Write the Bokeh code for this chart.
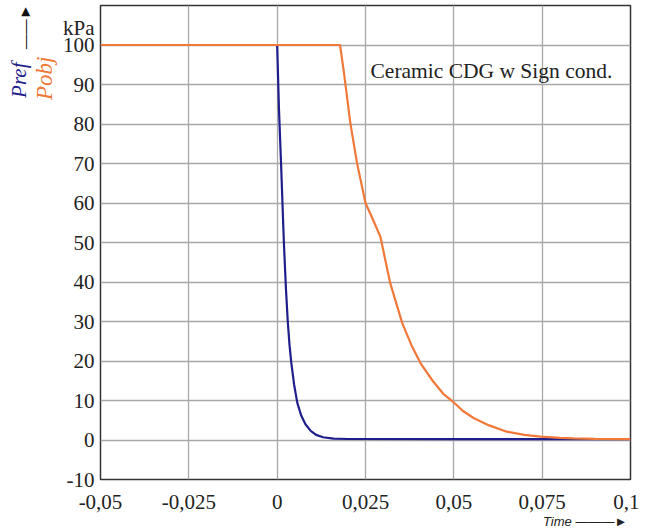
from bokeh.plotting import figure
from bokeh.models import Range1d, FixedTicker, CustomJSTickFormatter, Label, Title
from bokeh.embed import file_html
from bokeh.resources import INLINE

# ---- data ----
blue_t = [-0.05, 0.0, 0.0005, 0.0011, 0.0015, 0.0019, 0.0025, 0.003, 0.0035, 0.004, 0.0048,
          0.0057, 0.0068, 0.008, 0.0095, 0.011, 0.013, 0.016, 0.02, 0.05, 0.1]
blue_p = [100, 100, 84, 70, 60, 50, 38, 30, 24, 19.5, 14, 9.4, 6.2, 4.0, 2.3, 1.3, 0.7,
          0.35, 0.25, 0.2, 0.2]

orange_t = [-0.05, 0.0178, 0.0189, 0.0207, 0.0226, 0.025, 0.027, 0.0292, 0.0305, 0.032,
            0.0354, 0.038, 0.0406, 0.044, 0.047, 0.05, 0.0525, 0.0557, 0.06, 0.065, 0.07,
            0.0745, 0.08, 0.084, 0.09, 0.1]
orange_p = [100, 100, 93, 80.3, 70.1, 60, 56, 51.5, 46, 39.7, 29.6, 24, 19.4, 15, 11.7,
            9.5, 7.4, 5.5, 3.7, 2.1, 1.3, 0.85, 0.55, 0.4, 0.3, 0.2]

x_ticks = [-0.05, -0.025, 0, 0.025, 0.05, 0.075, 0.1]
x_labels = ["-0,05", "-0,025", "0", "0,025", "0,05", "0,075", "0,1"]
y_grid = [-10, 0, 10, 20, 30, 40, 50, 60, 70, 80, 90, 100]
y_ticks = [-10, 0, 10, 20, 30, 40, 50, 60, 70, 80, 90, 100, 104.3]
y_labels = ["-10", "0", "10", "20", "30", "40", "50", "60", "70", "80", "90", "100", "kPa"]

BLUE = "#1e1e8c"
ORANGE = "#f07838"
SERIF = "Liberation Serif"
TXT = "#222222"

p = figure(width=639, height=531, output_backend="svg", toolbar_location=None,
           x_range=Range1d(-0.05, 0.1), y_range=Range1d(-10, 110),
           min_border_left=100, min_border_right=9, min_border_top=5, min_border_bottom=52)

p.background_fill_color = "white"
p.border_fill_color = "white"
p.outline_line_color = "#333333"
p.outline_line_width = 1.5

p.xaxis.ticker = FixedTicker(ticks=x_ticks)
p.xaxis.formatter = CustomJSTickFormatter(args=dict(labels=x_labels), code="return labels[index];")
p.yaxis.ticker = FixedTicker(ticks=y_ticks)
p.yaxis.formatter = CustomJSTickFormatter(args=dict(labels=y_labels), code="return labels[index];")
p.ygrid.ticker = FixedTicker(ticks=y_grid)

for ax in (p.xaxis[0], p.yaxis[0]):
    ax.axis_line_color = None
    ax.major_tick_line_color = None
    ax.minor_tick_line_color = None
    ax.major_tick_out = 0
    ax.major_tick_in = 0
    ax.minor_tick_out = 0
    ax.major_label_text_font = SERIF
    ax.major_label_text_font_size = "21px"
    ax.major_label_text_color = TXT
p.xaxis.major_label_standoff = 15
p.yaxis.major_label_standoff = 6

p.xgrid.grid_line_color = "#a8a8a8"
p.ygrid.grid_line_color = "#a8a8a8"
p.xgrid.grid_line_width = 1.3
p.ygrid.grid_line_width = 1.3

p.line(blue_t, blue_p, line_color=BLUE, line_width=2.2)
p.line(orange_t, orange_p, line_color=ORANGE, line_width=2.2)

p.add_layout(Label(x=370, y=70, x_units="canvas", y_units="canvas",
                   text="Ceramic CDG w Sign cond.",
                   text_font=SERIF, text_font_size="21.5px", text_color=TXT,
                   text_baseline="middle", text_align="left"))

# left side: Pobj (inner), arrow, Pref (outer)
p.add_layout(Title(text="Pobj", text_font=SERIF, text_font_style="italic",
                   text_font_size="23px", text_color=ORANGE, align="right",
                   offset=51, standoff=5), "left")
p.add_layout(Title(text="\u2014\u2014\u25ba", text_font="Liberation Sans",
                   text_font_style="normal", text_font_size="15px", text_color="#111111",
                   align="right", offset=-1, standoff=-11), "left")
p.add_layout(Title(text="Pref", text_font=SERIF, text_font_style="italic",
                   text_font_size="21px", text_color=BLUE, align="right",
                   offset=57, standoff=-22), "left")

# bottom: Time arrow
p.add_layout(Title(text="Time   \u2014\u2014\u2014\u25ba", text_font="Liberation Sans",
                   text_font_style="italic", text_font_size="13px", text_color=TXT,
                   align="right", offset=-4, standoff=1), "below")

open("out.html", "w").write(file_html(p, INLINE))
